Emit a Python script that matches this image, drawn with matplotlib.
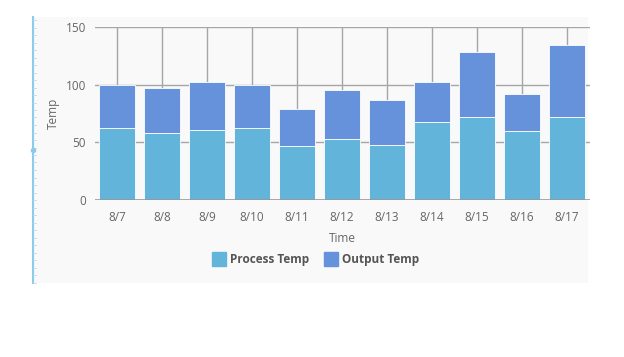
import matplotlib
matplotlib.use('Agg')
import matplotlib.pyplot as plt
from matplotlib.lines import Line2D
from matplotlib.patches import Rectangle
import numpy as np

plt.rcParams['font.family'] = ['Open Sans', 'DejaVu Sans']

days = ['8/7', '8/8', '8/9', '8/10', '8/11', '8/12', '8/13', '8/14', '8/15', '8/16', '8/17']
process_temp = [62, 58, 61, 62, 47, 53, 48, 68, 72, 60, 72]
output_temp = [38, 39, 41, 37.5, 32, 42, 39, 34, 56, 32, 62]

c_process = '#63b4da'
c_output = '#6692dc'
grid_c = '#a6a6a6'
text_c = '#666666'

fig = plt.figure(figsize=(6.24, 3.57), dpi=100)
fig.patch.set_facecolor('white')

# light panel behind the chart + editor selection border
fig.patches.append(Rectangle((33 / 624, 1 - 283 / 357), (588 - 33) / 624, (283 - 17) / 357,
                             transform=fig.transFigure, facecolor='#f9f9f9', edgecolor='none', zorder=-5))
fig.lines.append(Line2D([33 / 624, 33 / 624], [1 - 283 / 357, 1 - 17 / 357], transform=fig.transFigure,
                        color='#8ccbea', lw=1.5, zorder=-4))
for yy in np.arange(20, 283, 7.5):
    fig.lines.append(Line2D([33 / 624, 36 / 624], [1 - yy / 357, 1 - yy / 357], transform=fig.transFigure,
                            color='#b8dcef', lw=0.6, zorder=-4))
fig.lines.append(Line2D([33 / 624], [1 - 150 / 357], transform=fig.transFigure, marker='o', ms=3,
                        color='#8ccbea', lw=0, zorder=-4))

ax = fig.add_axes([94.5 / 624, 1 - 200 / 357, 495 / 624, 173 / 357])
ax.set_facecolor('none')
x = np.arange(len(days))

# vertical grid lines at each category, hidden below the bars
ax.vlines(x, 0, 150, color=grid_c, lw=1, zorder=1)
for v in [50, 100, 150]:
    ax.axhline(v, color=grid_c, lw=1, zorder=1)
ax.axhline(0, color='#999999', lw=1.2, zorder=3)

ax.bar(x, process_temp, width=0.8, color=c_process, edgecolor='white', lw=0.6, zorder=2)
ax.bar(x, output_temp, bottom=process_temp, width=0.8, color=c_output, edgecolor='white', lw=0.6, zorder=2)

ax.set_xlim(-0.5, 10.5)
ax.set_ylim(0, 150)
ax.set_yticks([0, 50, 100, 150])
ax.set_xticks(x)
ax.set_xticklabels(days)
for s in ax.spines.values():
    s.set_visible(False)
ax.tick_params(length=0, colors=text_c, labelsize=8.5)
ax.tick_params(axis='x', pad=8)
ax.tick_params(axis='y', pad=6)
ax.set_xlabel('Time', color=text_c, fontsize=8.5, labelpad=6)
ax.set_ylabel('Temp', color=text_c, fontsize=8.5, labelpad=4)

handles = [Line2D([], [], marker='s', ms=10, lw=0, color=c_process, label='Process Temp'),
           Line2D([], [], marker='s', ms=10, lw=0, color=c_output, label='Output Temp')]
leg = fig.legend(handles=handles, loc='center', bbox_to_anchor=(316 / 624, 1 - 260 / 357), ncol=2,
                 frameon=False, handlelength=1.0, handletextpad=0.4, columnspacing=1.4,
                 prop={'weight': 'bold', 'size': 8.5})
for t in leg.get_texts():
    t.set_color('#555555')

fig.savefig('out.png', dpi=100)
